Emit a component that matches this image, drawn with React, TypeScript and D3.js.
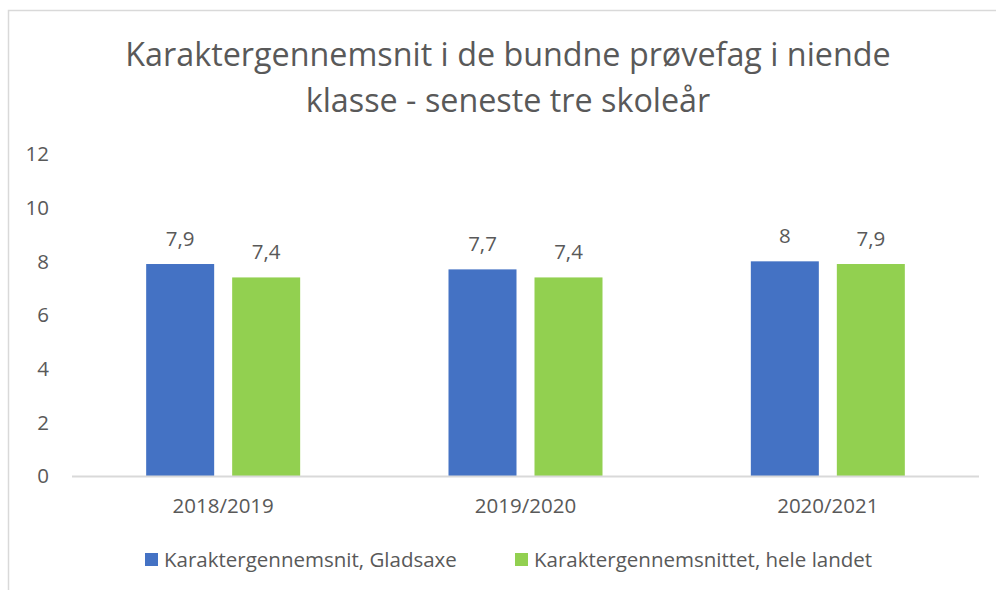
import { useEffect, useRef } from "react";
import * as d3 from "d3";

const years = ["2018/2019", "2019/2020", "2020/2021"];
const seriesNames = ["Karaktergennemsnit, Gladsaxe", "Karaktergennemsnittet, hele landet"];
const gladsaxe = [7.9, 7.7, 8];
const heleLandet = [7.4, 7.4, 7.9];
const yTicks = [0, 2, 4, 6, 8, 10, 12];
const titleLines = [
  "Karaktergennemsnit i de bundne prøvefag i niende",
  "klasse - seneste tre skoleår",
];

const colors = ["#4472C4", "#92D050"];
const textColor = "#595959";
const font = "'Open Sans', 'Noto Sans', sans-serif";

export default function App() {
  const svgRef = useRef<SVGSVGElement>(null);

  useEffect(() => {
    if (!svgRef.current) return;
    const width = 996;
    const height = 590;
    const svg = d3.select(svgRef.current);
    svg.selectAll("*").remove();
    svg.attr("width", width).attr("height", height).attr("viewBox", `0 0 ${width} ${height}`);

    svg.append("rect").attr("width", width).attr("height", height).attr("fill", "#fff");

    // chart frame
    svg.append("rect")
      .attr("x", 8.5)
      .attr("y", 10.5)
      .attr("width", 1100)
      .attr("height", 700)
      .attr("fill", "none")
      .attr("stroke", "#D9D9D9")
      .attr("stroke-width", 1.5);

    // title
    svg.append("g")
      .selectAll("text")
      .data(titleLines)
      .join("text")
      .attr("x", 508)
      .attr("y", (_, i) => 66 + i * 46)
      .attr("text-anchor", "middle")
      .attr("font-family", font)
      .attr("font-size", 32.3)
      .attr("fill", textColor)
      .text((d) => d);

    const left = 72;
    const right = 979;
    const y0 = 476;

    const x = d3.scaleBand<string>().domain(years).range([left, right]).paddingInner(0).paddingOuter(0);
    const y = d3.scaleLinear().domain([0, 12]).range([y0, 154]);

    const barW = 68;
    const gap = 18;

    // y axis labels
    svg.append("g")
      .selectAll("text")
      .data(yTicks)
      .join("text")
      .attr("x", 49)
      .attr("y", (d) => y(d))
      .attr("dy", "0.35em")
      .attr("text-anchor", "end")
      .attr("font-family", font)
      .attr("font-size", 20.5)
      .attr("fill", textColor)
      .text((d) => d);

    const series = [gladsaxe, heleLandet];
    const fmt = (v: number) => String(v).replace(".", ",");

    series.forEach((vals, si) => {
      const g = svg.append("g");
      const bx = (i: number) =>
        x(years[i])! + x.bandwidth() / 2 - (barW * 2 + gap) / 2 + si * (barW + gap);
      g.selectAll("rect")
        .data(vals)
        .join("rect")
        .attr("x", (_, i) => bx(i))
        .attr("y", (d) => y(d))
        .attr("width", barW)
        .attr("height", (d) => y0 - y(d))
        .attr("fill", colors[si]);
      g.selectAll("text")
        .data(vals)
        .join("text")
        .attr("x", (_, i) => bx(i) + barW / 2)
        .attr("y", (d) => y(d) - 18)
        .attr("text-anchor", "middle")
        .attr("font-family", font)
        .attr("font-size", 20.5)
        .attr("fill", textColor)
        .text((d) => fmt(d));
    });

    // x axis line
    svg.append("line")
      .attr("x1", left)
      .attr("x2", right)
      .attr("y1", y0 + 0.5)
      .attr("y2", y0 + 0.5)
      .attr("stroke", "#D9D9D9")
      .attr("stroke-width", 2);

    svg.append("g")
      .selectAll("text")
      .data(years)
      .join("text")
      .attr("x", (d) => x(d)! + x.bandwidth() / 2)
      .attr("y", 513)
      .attr("text-anchor", "middle")
      .attr("font-family", font)
      .attr("font-size", 20.5)
      .attr("fill", textColor)
      .text((d) => d);

    // legend
    const legendX = [145, 515];
    const lg = svg.append("g");
    seriesNames.forEach((name, i) => {
      lg.append("rect")
        .attr("x", legendX[i])
        .attr("y", 553)
        .attr("width", 13)
        .attr("height", 13)
        .attr("fill", colors[i]);
      lg.append("text")
        .attr("x", legendX[i] + 19)
        .attr("y", 567)
        .attr("font-family", font)
        .attr("font-size", 20.5)
        .attr("fill", textColor)
        .text(name);
    });
  }, []);

  return (
    <svg
      ref={svgRef}
      style={{ position: "absolute", left: 0, top: 0, display: "block" }}
    />
  );
}
